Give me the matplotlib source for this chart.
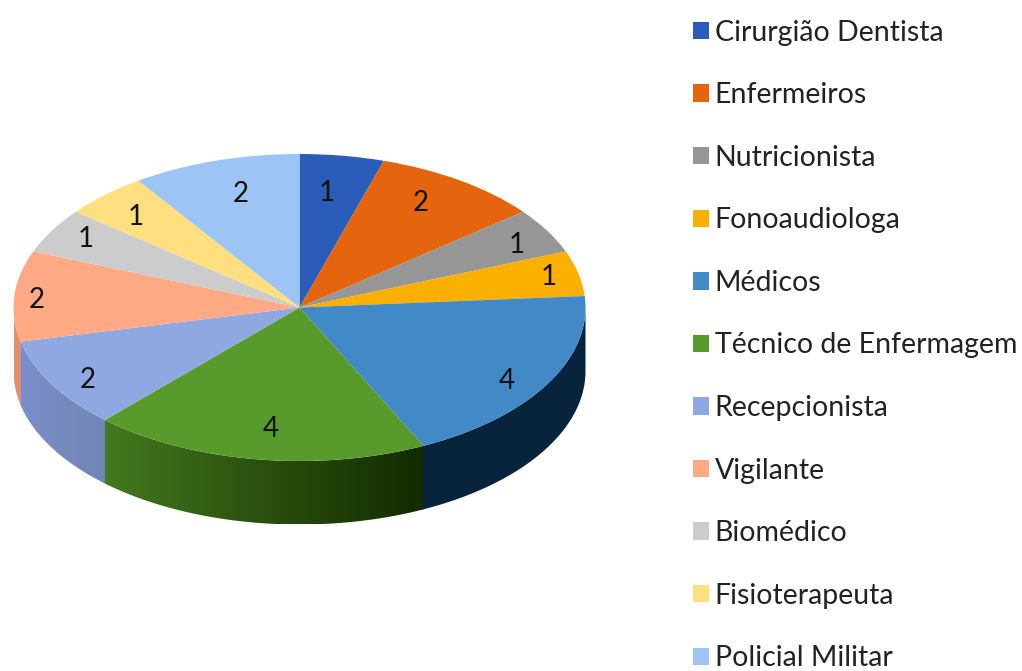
import numpy as np
import matplotlib
matplotlib.use("Agg")
import matplotlib.pyplot as plt
from matplotlib.colors import LinearSegmentedColormap
from matplotlib.patches import Polygon

categories = ["Cirurgião Dentista", "Enfermeiros", "Nutricionista", "Fonoaudiologa",
              "Médicos", "Técnico de Enfermagem", "Recepcionista", "Vigilante",
              "Biomédico", "Fisioterapeuta", "Policial Militar"]
values = [1, 2, 1, 1, 4, 4, 2, 2, 1, 1, 2]
colors = ["#2a5cb8", "#e5650f", "#969696", "#fbb000", "#4289c8", "#589a2c",
          "#8fa8e2", "#ffaa85", "#cccccc", "#ffdf80", "#9cc5f5"]
label_radii = [.75, .80, .86, .893, .867, .797, .878, .92, .87, .82, .766]
label_turn = [-1.4, -2.3, 1.9, 0.2, 3.4, -1.3, -2.4, -1.4, 1.0, -1.3, 1.7]
wall_colors = {4: ["#08243c", "#08243c"], 5: ["#44791f", "#2a4f0e", "#122b00"],
               6: ["#7b8ec8", "#7186b5"], 7: ["#e0906f", "#e0906f"]}

W, H = 1022, 671
CX, CY, RX, RY, DEPTH = 299.5, 307.5, 286, 153.5, 63.5

plt.rcParams["font.family"] = ["Lato", "DejaVu Sans"]
fig = plt.figure(figsize=(W / 100, H / 100), dpi=100)
ax = fig.add_axes([0, 0, 1, 1])
wedges, _ = ax.pie(values, colors=colors, startangle=90, counterclock=False,
                   radius=1, center=(0, 0), wedgeprops=dict(linewidth=0))
ax.set_aspect("auto")
ax.axis("off")
depth = DEPTH / RY

for i, w in enumerate(wedges):
    w.set_zorder(3)
    a = w.theta1 % 360
    b = a + (w.theta2 - w.theta1)
    lo, hi = max(a, 180), min(b, 360)
    if lo >= hi or i not in wall_colors:
        continue
    # a slight overlap closes the hairline between neighbouring walls
    t = np.radians(np.linspace(max(lo - 0.4, 180), hi, 120))
    xs, ys = np.cos(t), np.sin(t)
    pts = np.r_[np.c_[xs, ys], np.c_[xs[::-1], ys[::-1] - depth]]
    poly = Polygon(pts, closed=True, transform=ax.transData, facecolor="none", edgecolor="none")
    ax.add_patch(poly)
    cmap = LinearSegmentedColormap.from_list("w", wall_colors[i])
    im = ax.imshow(np.linspace(0, 1, 256)[None, :], cmap=cmap, aspect="auto", zorder=2,
                   extent=(xs.min(), xs.max(), (ys - depth).min(), ys.max()))
    im.set_clip_path(poly)
ax.set_xlim(-CX / RX, (W - CX) / RX)
ax.set_ylim((CY - H) / RY, CY / RY)

for w, v, r, d in zip(wedges, values, label_radii, label_turn):
    m = np.radians((w.theta1 + w.theta2) / 2 - d)
    ax.text(r * np.cos(m), r * np.sin(m), str(v), ha="center", va="center",
            fontsize=20, color="#111111", zorder=5)

fs = 20.5
handle = 16 * 0.72
leg = ax.legend(wedges, categories, loc="upper left", frameon=False, fontsize=fs,
                bbox_to_anchor=(684 / W, 1 - 11 / H), bbox_transform=fig.transFigure,
                handlelength=handle / fs, handleheight=handle / fs,
                handletextpad=0.21, labelspacing=1.285, borderpad=0.3, borderaxespad=0,
                labelcolor="#222222")
leg.set_zorder(6)
fig.savefig("out.png", dpi=100)
